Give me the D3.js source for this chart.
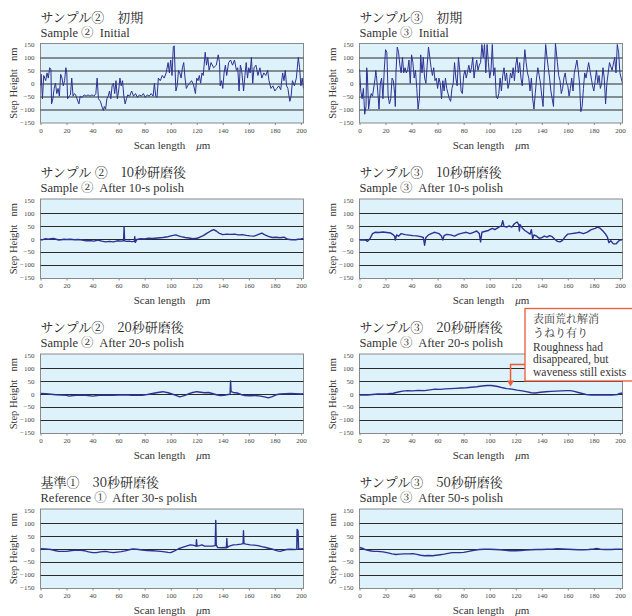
<!DOCTYPE html>
<html>
<head>
<meta charset="utf-8">
<script src="https://cdn.jsdelivr.net/npm/d3@7"></script>
<style>
  body { margin: 0; background: #fff; }
  svg { display: block; }
</style>
</head>
<body>
<div id="chart"></div>
<script>
// step height profiles, [scan length um, height nm]
var s2Initial = [[0,-10],[0.5,35],[1.5,-60],[2.5,30],[4,10],[5,40],[6,20],[7,60],[8,55],[8.5,-80],[9.5,-60],[10.5,-20],[11.5,0],[12.5,-40],[13.5,-20],[14.5,-50],[15.5,35],[16.5,20],[17.5,-10],[18.5,10],[19.5,60],[20.2,40],[20.8,-60],[22,-50],[23,-45],[24,20],[25,-50],[26,-40],[27,-45],[28,-60],[29.5,-80],[30.5,-50],[32,-55],[33.5,-45],[35,-50],[36.5,-45],[38,-50],[39.5,-45],[41,-50],[42.5,-40],[43.5,20],[44.5,-60],[46,-70],[47.5,-95],[48.3,-105],[49,-90],[50,-100],[51,-60],[52,-50],[53,-30],[54,-60],[55,-10],[56,0],[57,-40],[58,10],[59,-60],[60,-30],[61,20],[62,-10],[63,10],[64,-50],[65,-80],[66,-60],[67,-45],[68.5,-50],[70,-30],[71.5,-50],[73,-40],[74.5,-55],[76,-45],[77.5,-50],[79,-40],[80.5,-55],[82,-45],[83.5,-50],[85,-40],[86.5,-50],[87.5,0],[88.5,-50],[89.5,-55],[90.5,20],[92,10],[93.5,30],[95,20],[96.5,40],[98,80],[99,40],[100,90],[101,30],[102,140],[102.7,145],[103.3,60],[104,-30],[105,-10],[106,50],[107,40],[108,20],[109,60],[110,80],[111,20],[112,-20],[113,-10],[114.5,0],[116,10],[117.5,-5],[119,-40],[120,20],[121,10],[122,30],[123,0],[124,40],[125,30],[126.5,120],[127.5,70],[128.5,100],[129.5,50],[131,80],[133,60],[135,70],[136.5,110],[137.5,80],[138,-10],[139,10],[140,-20],[141,40],[142,70],[143,30],[144.5,80],[146,90],[147.5,70],[149,90],[150.5,50],[151.5,60],[152.5,-30],[153.5,70],[154.5,50],[156,-30],[157,30],[158,80],[159,20],[160,60],[161,40],[162,100],[163,0],[164,60],[165.5,70],[167,30],[168.5,60],[170,20],[171.5,40],[173,30],[174.5,50],[175.5,10],[177,-20],[178.5,-10],[180,-30],[181.5,-20],[183,-10],[184.5,-25],[186,40],[187,10],[188,50],[189,-10],[190,-20],[191.5,-70],[192.5,-50],[193.5,10],[195,-10],[196.5,20],[198,100],[199,60],[200,-10],[201,20],[202,-20]];

var s3Initial = [[0,55],[1,-30],[2,-60],[3,-20],[4,-120],[5,-90],[5.5,60],[6,40],[7,-100],[8,-60],[9,-40],[10,-50],[12,20],[12.5,50],[13,30],[14,-30],[15,-100],[16,0],[17,20],[18,-60],[19,50],[20,130],[21,120],[22,-50],[23,-80],[24,-60],[25,20],[26,10],[27,-40],[27.5,-90],[28,40],[29,140],[30,120],[31,70],[32,40],[33,100],[34,40],[35,60],[36,40],[37,50],[38,90],[39,0],[40,110],[41,80],[42,20],[43,50],[44,-20],[45,-100],[46,-60],[47,110],[48,40],[49,100],[50,20],[51,0],[52,70],[53,140],[54,100],[55,60],[56,30],[57,60],[58,10],[59,20],[60,-20],[61,20],[62,0],[63,-60],[64,10],[65,-30],[66,20],[67,-20],[68,-40],[69,-60],[70,-70],[71,-20],[72,0],[73,80],[74,20],[75,-10],[76,100],[77,50],[78,-30],[79,-40],[80,30],[81,50],[82,20],[84,70],[85,40],[86,60],[87,100],[88,20],[89,60],[90,90],[91,50],[92,70],[93,80],[94,150],[95,100],[96,150],[97,40],[98,150],[99,80],[100,20],[101,50],[102,150],[103,30],[104,60],[105,-50],[106,-60],[107,-40],[108,20],[109,-30],[110,30],[111,60],[112,10],[113,40],[114,-20],[115,0],[116,40],[117,20],[118,60],[119,10],[120,70],[121,100],[122,40],[123,80],[124,20],[125,-10],[126,60],[127,130],[128,80],[129,40],[130,20],[131,-30],[132,20],[133,-60],[134,-100],[135,-40],[136,20],[137,60],[138,30],[139,0],[140,-50],[141,-90],[142,50],[143,150],[144,100],[145,60],[146,20],[147,-30],[148,-60],[149,-90],[150.5,155],[152,80],[153,30],[154,10],[155,-40],[156,-20],[157,20],[158,40],[159,0],[160,-10],[161,-50],[162,-20],[163,20],[164,-30],[165,40],[167,90],[168,50],[169,0],[170,-110],[171,-90],[172,-20],[173,40],[174,20],[176,80],[177,50],[178,20],[179,-10],[180,-30],[181,10],[182,50],[183,0],[184,30],[185,-20],[186,0],[187,60],[188,20],[189,-80],[190,0],[192,80],[194,50],[196,100],[197,40],[198,150],[199,120],[200,40],[201,20],[202,0]];

var s2After10 = [[0,-5],[2,-3],[4,0],[6,-2],[8,0],[10,1],[12,-2],[14,-5],[16,-4],[18,-2],[20,-3],[23,-2],[26,-4],[29,-3],[32,-5],[35,-8],[38,-7],[41,-9],[44,-5],[47,-9],[50,-12],[53,-10],[56,-12],[59,-8],[62,-9],[63.8,-8],[64.2,45],[64.6,-8],[66,-10],[68,-9],[70,-11],[72,-10],[72.4,8],[72.8,-14],[74,-3],[77,0],[80,-1],[83,2],[86,1],[90,3],[94,5],[98,8],[101,12],[104,15],[106,11],[108,8],[111,5],[114,3],[117,0],[120,2],[122,5],[125,12],[128,22],[131,31],[133,35],[135,30],[137,22],[140,16],[143,18],[146,17],[149,18],[152,15],[155,16],[158,13],[161,11],[164,10],[167,16],[170,22],[172,16],[175,9],[178,5],[181,6],[184,4],[187,6],[190,-2],[193,-4],[196,-4],[198,-2],[200,-1],[202,1]];

var s3After10 = [[0,-5],[3,-4],[5,-6],[6,-10],[7,-6],[8,0],[10,20],[12,25],[15,24],[18,26],[21,24],[24,22],[26,15],[27,10],[27.5,-5],[28.5,15],[30,10],[32,20],[35,16],[38,14],[41,12],[44,11],[47,8],[49,5],[50,-25],[51,5],[53,15],[56,22],[58,25],[61,20],[63,10],[64,-5],[65,12],[67,17],[70,15],[73,10],[76,18],[79,22],[82,25],[85,20],[88,26],[90,30],[92,20],[93,-12],[94,25],[96,28],[99,32],[102,40],[104,35],[107,45],[109,50],[110,70],[111,48],[113,45],[115,50],[117,45],[119,58],[121,65],[122.3,55],[122.8,30],[123.3,55],[125,42],[127,32],[129,25],[131,18],[132,35],[133,0],[134,15],[136,10],[138,2],[140,4],[142,10],[144,6],[146,12],[148,8],[150,-2],[152,-10],[154,-12],[156,-6],[158,8],[160,18],[163,20],[166,22],[169,25],[172,20],[175,26],[178,35],[181,40],[183,45],[185,40],[187,30],[189,18],[190.5,5],[191.5,-15],[193,-8],[195,-20],[197,-20],[198.5,-12],[200,-5],[202,-4]];

var s2After20 = [[0,1],[4,0],[8,-2],[12,-4],[16,-5],[20,-6],[22,-9],[25,-7],[30,-5],[35,-6],[40,-9],[45,-6],[50,-5],[55,-6],[60,-5],[65,-4],[70,-6],[75,-5],[78,-6],[82,-3],[86,1],[90,5],[94,8],[98,4],[101,-1],[104,-6],[107,-12],[109,-9],[111,-6],[114,0],[117,5],[120,8],[123,6],[126,4],[129,5],[132,1],[135,-4],[138,-7],[141,-6],[144,-3],[145.6,-2],[146,50],[146.4,8],[148,5],[151,3],[154,-3],[157,-7],[161,-8],[165,-7],[169,-9],[172,-12],[175,-16],[178,-11],[181,-4],[184,-1],[188,0],[192,1],[196,0],[200,-1],[202,0]];

var s3After20 = [[0,-5],[3,-4],[6,-5],[10,-3],[14,-1],[18,-1],[22,0],[26,2],[29,6],[33,10],[37,12],[41,11],[45,13],[50,12],[54,15],[58,18],[62,17],[66,19],[70,20],[74,21],[78,22],[82,23],[86,25],[90,27],[94,30],[98,32],[101,32],[104,30],[107,27],[110,23],[113,20],[117,18],[121,14],[125,11],[128,8],[132,4],[135,3],[139,6],[143,8],[147,9],[151,10],[155,11],[159,12],[162,12],[165,9],[168,5],[171,1],[174,-3],[178,-5],[182,-5],[186,-4],[190,-5],[194,-5],[198,-3],[200,1],[202,3]];

var ref1After30 = [[0,0],[4,-1],[8,-3],[11,-7],[14,-10],[17,-10],[20,-10],[24,-7],[28,-5],[31,-6],[34,-8],[37,-12],[40,-15],[43,-15],[46,-12],[50,-10],[53,-13],[56,-15],[59,-13],[62,-11],[65,-8],[68,-4],[71,-1],[74,-2],[78,-5],[82,-7],[86,-8],[90,-9],[94,-11],[98,-14],[100,-15],[103,-8],[106,0],[109,5],[112,10],[115,15],[117,14],[119.5,10],[119.8,35],[120.2,10],[122,12],[124,15],[126,10],[129,10],[132,10],[134.2,12],[134.6,110],[135,15],[136,5],[139,4],[142,5],[142.8,4],[143.1,40],[143.5,5],[145,10],[148,15],[151,16],[154,18],[155.6,20],[155.9,70],[156.3,20],[158,18],[161,15],[164,14],[167,12],[170,8],[173,5],[176,1],[179,-3],[182,-8],[184,-10],[186,-7],[189,-3],[192,-2],[195,-3],[196.8,-2],[197.1,75],[197.8,70],[198.2,0],[200,-1],[202,0]];

var s3After50 = [[0,5],[2,2],[5,-4],[8,-8],[11,-10],[14,-10],[18,-12],[22,-16],[25,-20],[28,-22],[31,-21],[34,-20],[38,-20],[41,-19],[44,-22],[47,-25],[50,-27],[53,-26],[56,-27],[59,-25],[62,-23],[65,-21],[68,-18],[71,-15],[74,-15],[77,-15],[80,-14],[84,-10],[88,-6],[92,-3],[96,-2],[100,-2],[104,-3],[108,-4],[112,-6],[116,-8],[120,-8],[124,-7],[128,-5],[132,-4],[136,-3],[140,-3],[144,-2],[148,-2],[152,0],[156,-1],[160,-2],[164,-3],[168,-4],[172,-4],[176,-3],[180,-1],[182,1],[185,-2],[189,-3],[193,-3],[197,-2],[200,-2],[202,-2]];

var xTicks = [0, 20, 40, 60, 80, 100, 120, 140, 160, 180, 200];
var yTicks = [-150, -100, -50, 0, 50, 100, 150];
var gridValues = [-100, -50, 0, 50, 100];

var panels = [
  {col: 0, row: 0, jp: "サンプル②　初期", en: "Sample ②  Initial", data: s2Initial},
  {col: 1, row: 0, jp: "サンプル③　初期", en: "Sample ③  Initial", data: s3Initial},
  {col: 0, row: 1, jp: "サンプル ②　10秒研磨後", en: "Sample ②  After 10-s polish", data: s2After10},
  {col: 1, row: 1, jp: "サンプル③　10秒研磨後", en: "Sample ③  After 10-s polish", data: s3After10},
  {col: 0, row: 2, jp: "サンプル②　20秒研磨後", en: "Sample ②  After 20-s polish", data: s2After20},
  {col: 1, row: 2, jp: "サンプル③　20秒研磨後", en: "Sample ③  After 20-s polish", data: s3After20},
  {col: 0, row: 3, jp: "基準①　30秒研磨後", en: "Reference ①  After 30-s polish", data: ref1After30},
  {col: 1, row: 3, jp: "サンプル③　50秒研磨後", en: "Sample ③  After 50-s polish", data: s3After50}
];

var noteJp = ["表面荒れ解消", "うねり有り"];
var noteEn = ["Roughness had", "disappeared, but", "waveness still exists"];
var notePoint = [116, 28];

var width = 632, height = 616;
var colX = [40.5, 359.5];
var rowY = [44.5, 200, 355, 510];
var plotW = 263, plotH = 77.5;
var lineColor = "#2e3192";
var noteColor = "#ef5a38";
var serif = "'Liberation Serif', 'Noto Serif CJK JP', serif";
var mincho = "'Noto Serif CJK JP', 'Liberation Serif', serif";

var svg = d3.select("#chart").append("svg")
    .attr("width", width)
    .attr("height", height)
    .style("font-family", serif);

panels.forEach(function(p, i) {
    var x = d3.scaleLinear().domain([0, 202]).range([0, plotW]);
    var y = d3.scaleLinear().domain([-150, 150]).range([plotH, 0]);

    var g = svg.append("g")
        .attr("transform", "translate(" + colX[p.col] + "," + rowY[p.row] + ")");

    g.append("text")
        .attr("x", 0)
        .attr("y", -23)
        .style("font-family", mincho)
        .style("font-size", "13px")
        .style("white-space", "pre")
        .style("fill", "#222")
        .text(p.jp);

    g.append("text")
        .attr("x", 0)
        .attr("y", -8)
        .style("font-family", serif)
        .style("font-size", "12.5px")
        .style("white-space", "pre")
        .style("fill", "#333")
        .text(p.en);

    g.append("rect")
        .attr("x", 0)
        .attr("y", -1)
        .attr("width", plotW)
        .attr("height", plotH + 2)
        .style("fill", "#ddf2fa")
        .style("stroke", "#8a8a8a")
        .style("stroke-width", 1);

    // grid lines
    g.selectAll(".grid")
        .data(gridValues)
        .enter().append("line")
        .attr("x1", 0)
        .attr("x2", plotW)
        .attr("y1", function(d) { return Math.round(y(d)) + 0.5; })
        .attr("y2", function(d) { return Math.round(y(d)) + 0.5; })
        .style("stroke", "#2a2a2a")
        .style("stroke-width", 1);

    g.append("clipPath")
        .attr("id", "clip" + i)
        .append("rect")
        .attr("x", 0).attr("y", -1)
        .attr("width", plotW).attr("height", plotH + 2);

    var line = d3.line()
        .x(function(d) { return x(d[0]); })
        .y(function(d) { return y(d[1]); });

    g.append("path")
        .datum(p.data)
        .attr("clip-path", "url(#clip" + i + ")")
        .attr("d", line)
        .style("fill", "none")
        .style("stroke", lineColor)
        .style("stroke-width", i < 2 ? 1 : 1.4)
        .style("stroke-linejoin", "round");

    var xAxis = g.append("g")
        .attr("transform", "translate(0," + (plotH + 1) + ")")
        .call(d3.axisBottom(x).tickValues(xTicks).tickSize(2).tickPadding(3));
    xAxis.select(".domain").remove();
    xAxis.selectAll("line").style("stroke", "#888");
    xAxis.selectAll("text")
        .style("font-size", "7px")
        .style("font-family", serif)
        .style("fill", "#444");

    var yAxis = g.append("g")
        .call(d3.axisLeft(y).tickValues(yTicks).tickSize(0).tickPadding(6));
    yAxis.select(".domain").remove();
    yAxis.selectAll("text")
        .style("font-size", "7px")
        .style("font-family", serif)
        .style("fill", "#444");

    g.append("text")
        .attr("transform", "translate(" + (-24) + "," + (plotH / 2) + ") rotate(-90)")
        .attr("text-anchor", "middle")
        .style("font-family", serif)
        .style("font-size", "10.5px")
        .style("white-space", "pre")
        .style("fill", "#333")
        .text("Step Height   nm");

    var xt = g.append("text")
        .attr("x", plotW / 2)
        .attr("y", plotH + 26.5)
        .attr("text-anchor", "middle")
        .style("font-family", serif)
        .style("font-size", "11px")
        .style("white-space", "pre")
        .style("fill", "#333");
    xt.append("tspan").text("Scan length    ");
    xt.append("tspan").style("font-style", "italic").text("μ");
    xt.append("tspan").text("m");

    if (p.col == 1 && p.row == 2) {
        var tipX = x(notePoint[0]), tipY = y(notePoint[1]);
        var boxX = 525 - colX[1], boxY = 308.5 - rowY[2];
        var midY = boxY + 56;
        g.append("path")
            .attr("d", "M" + boxX + "," + midY + "H" + tipX + "V" + (tipY - 5))
            .style("fill", "none")
            .style("stroke", noteColor)
            .style("stroke-width", 1.5);
        g.append("path")
            .attr("d", "M" + (tipX - 3.5) + "," + (tipY - 6) + "L" + (tipX + 3.5) + "," + (tipY - 6) + "L" + tipX + "," + tipY + "Z")
            .style("fill", noteColor);
        g.append("rect")
            .attr("x", boxX)
            .attr("y", boxY)
            .attr("width", 120)
            .attr("height", 72.5)
            .style("fill", "#fff")
            .style("stroke", noteColor)
            .style("stroke-width", 1.3);

        var jpText = g.append("text")
            .attr("y", boxY + 14)
            .style("font-family", mincho)
            .style("font-size", "11px")
            .style("fill", "#333");
        jpText.selectAll("tspan")
            .data(noteJp)
            .enter().append("tspan")
            .attr("x", boxX + 8)
            .attr("dy", function(d, j) { return j == 0 ? 0 : 14; })
            .text(function(d) { return d; });

        var enText = g.append("text")
            .attr("y", boxY + 42)
            .style("font-family", serif)
            .style("font-size", "11.5px")
            .style("fill", "#333");
        enText.selectAll("tspan")
            .data(noteEn)
            .enter().append("tspan")
            .attr("x", boxX + 8)
            .attr("dy", function(d, j) { return j == 0 ? 0 : 12.5; })
            .text(function(d) { return d; });
    }
});
</script>
</body>
</html>
